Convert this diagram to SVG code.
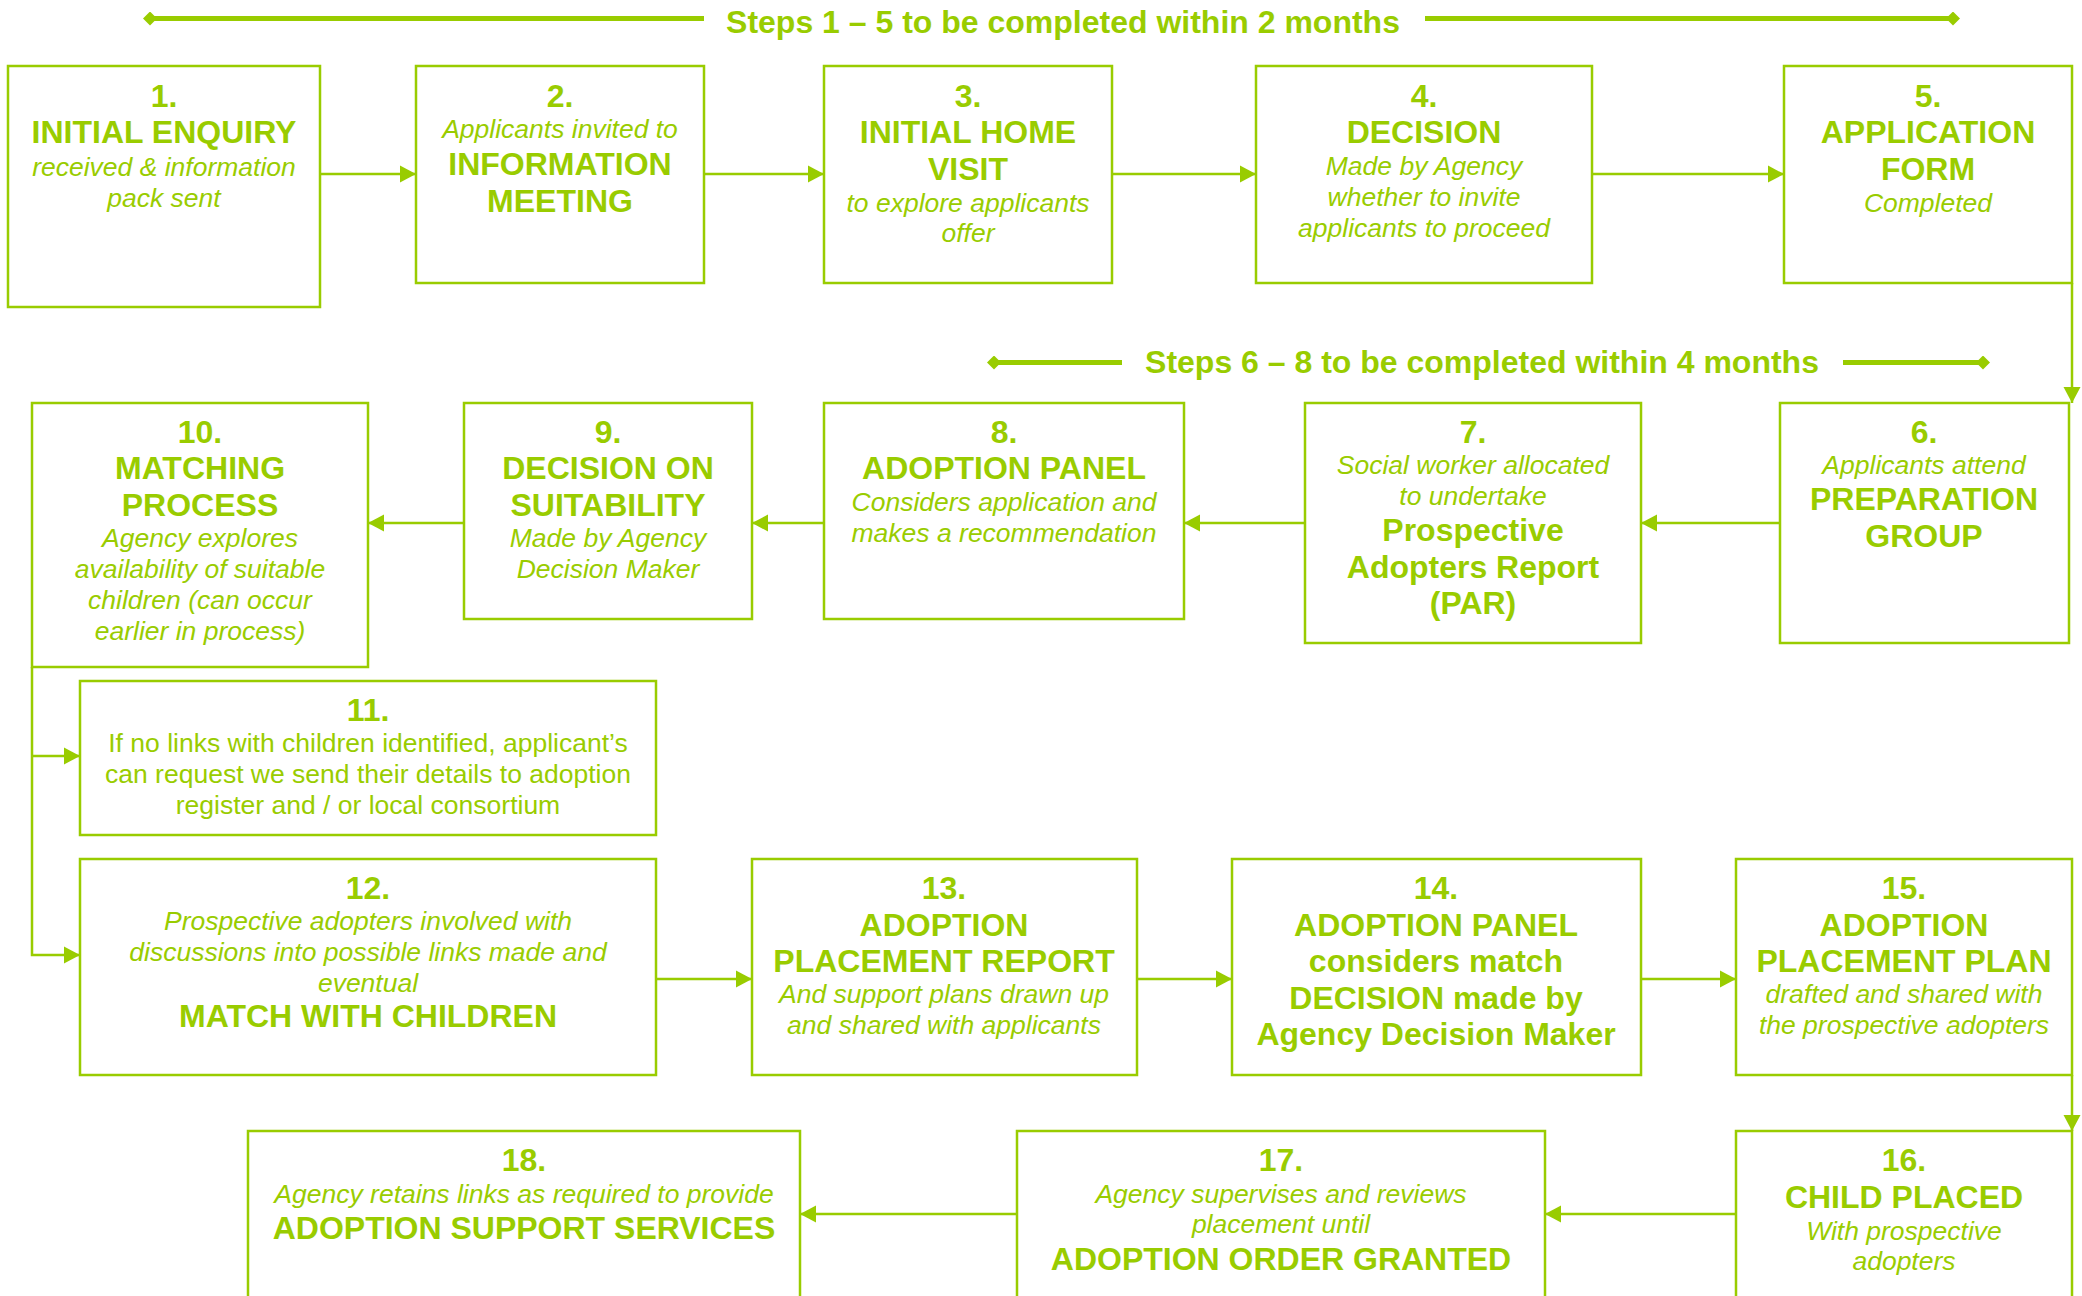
<svg xmlns="http://www.w3.org/2000/svg" width="2082" height="1296" viewBox="0 0 2082 1296">
<style>
.box{fill:#fff;stroke:#99CC00;stroke-width:2.5}
.con{fill:none;stroke:#99CC00;stroke-width:2.5}
.ban{fill:none;stroke:#99CC00;stroke-width:5}
text{font-family:"Liberation Sans",Arial,sans-serif;fill:#99CC00;text-anchor:middle}
.b{font-weight:bold;font-size:32px}
.i{font-style:italic;font-size:26.5px}
.r{font-size:26.5px}
</style>
<defs>
<marker id="ah" markerUnits="userSpaceOnUse" markerWidth="18" markerHeight="18" refX="16" refY="9" orient="auto">
<path d="M0,0.5 L16,9 L0,17.5 z" fill="#99CC00"/>
</marker>
<marker id="dm" markerUnits="userSpaceOnUse" markerWidth="16" markerHeight="16" refX="7" refY="7" orient="auto">
<path d="M0,7 L7,0 L14,7 L7,14 z" fill="#99CC00"/>
</marker>
</defs>
<rect width="2082" height="1296" fill="#fff"/>

<g id="banner1">
<path class="ban" d="M150,18.5 H704" marker-start="url(#dm)"/>
<path class="ban" d="M1425,18.5 H1953" marker-end="url(#dm)"/>
<text class="b" x="1063" y="33">Steps 1 – 5 to be completed within 2 months</text>
</g>
<g id="banner2">
<path class="ban" d="M994,362.5 H1122" marker-start="url(#dm)"/>
<path class="ban" d="M1843,362.5 H1983" marker-end="url(#dm)"/>
<text class="b" x="1482" y="373">Steps 6 – 8 to be completed within 4 months</text>
</g>

<g id="connectors">
<path class="con" d="M320,174 H416" marker-end="url(#ah)"/>
<path class="con" d="M704,174 H824" marker-end="url(#ah)"/>
<path class="con" d="M1112,174 H1256" marker-end="url(#ah)"/>
<path class="con" d="M1592,174 H1784" marker-end="url(#ah)"/>
<path class="con" d="M2072,283 V403" marker-end="url(#ah)"/>
<path class="con" d="M1782,523 H1641" marker-end="url(#ah)"/>
<path class="con" d="M1305,523 H1184" marker-end="url(#ah)"/>
<path class="con" d="M824,523 H752" marker-end="url(#ah)"/>
<path class="con" d="M464,523 H368" marker-end="url(#ah)"/>
<path class="con" d="M32,667 V955 H80" marker-end="url(#ah)"/>
<path class="con" d="M32,756 H80" marker-end="url(#ah)"/>
<path class="con" d="M656,979 H752" marker-end="url(#ah)"/>
<path class="con" d="M1137,979 H1232" marker-end="url(#ah)"/>
<path class="con" d="M1641,979 H1736" marker-end="url(#ah)"/>
<path class="con" d="M2072,1075 V1131" marker-end="url(#ah)"/>
<path class="con" d="M1736,1214 H1545" marker-end="url(#ah)"/>
<path class="con" d="M1017,1214 H800" marker-end="url(#ah)"/>
</g>

<g id="node1">
<rect class="box" x="8" y="66" width="312" height="241"/>
<text class="b" x="164" y="107">1.</text>
<text class="b" x="164" y="143">INITIAL ENQUIRY</text>
<text class="i" x="164" y="176">received &amp; information</text>
<text class="i" x="164" y="207">pack sent</text>
</g>
<g id="node2">
<rect class="box" x="416" y="66" width="288" height="217"/>
<text class="b" x="560" y="107">2.</text>
<text class="i" x="560" y="138">Applicants invited to</text>
<text class="b" x="560" y="175">INFORMATION</text>
<text class="b" x="560" y="212">MEETING</text>
</g>
<g id="node3">
<rect class="box" x="824" y="66" width="288" height="217"/>
<text class="b" x="968" y="107">3.</text>
<text class="b" x="968" y="143">INITIAL HOME</text>
<text class="b" x="968" y="180">VISIT</text>
<text class="i" x="968" y="212">to explore applicants</text>
<text class="i" x="968" y="242">offer</text>
</g>
<g id="node4">
<rect class="box" x="1256" y="66" width="336" height="217"/>
<text class="b" x="1424" y="107">4.</text>
<text class="b" x="1424" y="143">DECISION</text>
<text class="i" x="1424" y="175">Made by Agency</text>
<text class="i" x="1424" y="206">whether to invite</text>
<text class="i" x="1424" y="237">applicants to proceed</text>
</g>
<g id="node5">
<rect class="box" x="1784" y="66" width="288" height="217"/>
<text class="b" x="1928" y="107">5.</text>
<text class="b" x="1928" y="143">APPLICATION</text>
<text class="b" x="1928" y="180">FORM</text>
<text class="i" x="1928" y="212">Completed</text>
</g>

<g id="node6">
<rect class="box" x="1780" y="403" width="289" height="240"/>
<text class="b" x="1924" y="443">6.</text>
<text class="i" x="1924" y="474">Applicants attend</text>
<text class="b" x="1924" y="510">PREPARATION</text>
<text class="b" x="1924" y="547">GROUP</text>
</g>
<g id="node7">
<rect class="box" x="1305" y="403" width="336" height="240"/>
<text class="b" x="1473" y="443">7.</text>
<text class="i" x="1473" y="474">Social worker allocated</text>
<text class="i" x="1473" y="505">to undertake</text>
<text class="b" x="1473" y="541">Prospective</text>
<text class="b" x="1473" y="578">Adopters Report</text>
<text class="b" x="1473" y="614">(PAR)</text>
</g>
<g id="node8">
<rect class="box" x="824" y="403" width="360" height="216"/>
<text class="b" x="1004" y="443">8.</text>
<text class="b" x="1004" y="479">ADOPTION PANEL</text>
<text class="i" x="1004" y="511">Considers application and</text>
<text class="i" x="1004" y="542">makes a recommendation</text>
</g>
<g id="node9">
<rect class="box" x="464" y="403" width="288" height="216"/>
<text class="b" x="608" y="443">9.</text>
<text class="b" x="608" y="479">DECISION ON</text>
<text class="b" x="608" y="516">SUITABILITY</text>
<text class="i" x="608" y="547">Made by Agency</text>
<text class="i" x="608" y="578">Decision Maker</text>
</g>
<g id="node10">
<rect class="box" x="32" y="403" width="336" height="264"/>
<text class="b" x="200" y="443">10.</text>
<text class="b" x="200" y="479">MATCHING</text>
<text class="b" x="200" y="516">PROCESS</text>
<text class="i" x="200" y="547">Agency explores</text>
<text class="i" x="200" y="578">availability of suitable</text>
<text class="i" x="200" y="609">children (can occur</text>
<text class="i" x="200" y="640">earlier in process)</text>
</g>

<g id="node11">
<rect class="box" x="80" y="681" width="576" height="154"/>
<text class="b" x="368" y="721">11.</text>
<text class="r" x="368" y="752">If no links with children identified, applicant’s</text>
<text class="r" x="368" y="783">can request we send their details to adoption</text>
<text class="r" x="368" y="814">register and / or local consortium</text>
</g>
<g id="node12">
<rect class="box" x="80" y="859" width="576" height="216"/>
<text class="b" x="368" y="899">12.</text>
<text class="i" x="368" y="930">Prospective adopters involved with</text>
<text class="i" x="368" y="961">discussions into possible links made and</text>
<text class="i" x="368" y="992">eventual</text>
<text class="b" x="368" y="1027">MATCH WITH CHILDREN</text>
</g>
<g id="node13">
<rect class="box" x="752" y="859" width="385" height="216"/>
<text class="b" x="944" y="899">13.</text>
<text class="b" x="944" y="936">ADOPTION</text>
<text class="b" x="944" y="972">PLACEMENT REPORT</text>
<text class="i" x="944" y="1003">And support plans drawn up</text>
<text class="i" x="944" y="1034">and shared with applicants</text>
</g>
<g id="node14">
<rect class="box" x="1232" y="859" width="409" height="216"/>
<text class="b" x="1436" y="899">14.</text>
<text class="b" x="1436" y="936">ADOPTION PANEL</text>
<text class="b" x="1436" y="972">considers match</text>
<text class="b" x="1436" y="1009">DECISION made by</text>
<text class="b" x="1436" y="1045">Agency Decision Maker</text>
</g>
<g id="node15">
<rect class="box" x="1736" y="859" width="336" height="216"/>
<text class="b" x="1904" y="899">15.</text>
<text class="b" x="1904" y="936">ADOPTION</text>
<text class="b" x="1904" y="972">PLACEMENT PLAN</text>
<text class="i" x="1904" y="1003">drafted and shared with</text>
<text class="i" x="1904" y="1034">the prospective adopters</text>
</g>

<g id="node16">
<rect class="box" x="1736" y="1131" width="336" height="200"/>
<text class="b" x="1904" y="1171">16.</text>
<text class="b" x="1904" y="1208">CHILD PLACED</text>
<text class="i" x="1904" y="1240">With prospective</text>
<text class="i" x="1904" y="1270">adopters</text>
</g>
<g id="node17">
<rect class="box" x="1017" y="1131" width="528" height="200"/>
<text class="b" x="1281" y="1171">17.</text>
<text class="i" x="1281" y="1203">Agency supervises and reviews</text>
<text class="i" x="1281" y="1233">placement until</text>
<text class="b" x="1281" y="1270">ADOPTION ORDER GRANTED</text>
</g>
<g id="node18">
<rect class="box" x="248" y="1131" width="552" height="200"/>
<text class="b" x="524" y="1171">18.</text>
<text class="i" x="524" y="1203">Agency retains links as required to provide</text>
<text class="b" x="524" y="1239">ADOPTION SUPPORT SERVICES</text>
</g>
</svg>
